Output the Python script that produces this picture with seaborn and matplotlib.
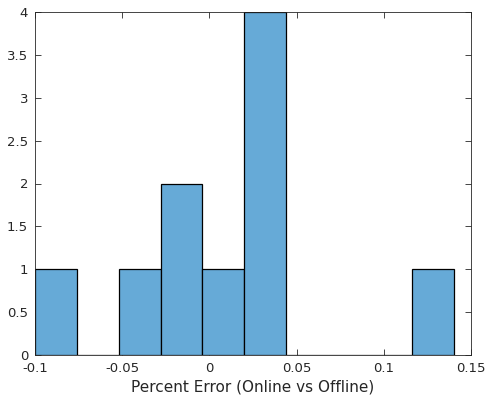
import matplotlib
matplotlib.use("Agg")
import matplotlib.pyplot as plt
import seaborn as sns
import numpy as np

# Histogram bin edges and counts
bin_edges = [-0.1, -0.076, -0.052, -0.028, -0.004, 0.020, 0.044, 0.068, 0.092, 0.116, 0.140]
bin_counts = [1, 0, 1, 2, 1, 4, 0, 0, 0, 1]

x_ticks = [-0.1, -0.05, 0, 0.05, 0.1, 0.15]
x_tick_labels = ["-0.1", "-0.05", "0", "0.05", "0.1", "0.15"]
y_ticks = [0, 0.5, 1, 1.5, 2, 2.5, 3, 3.5, 4]
y_tick_labels = ["0", "0.5", "1", "1.5", "2", "2.5", "3", "3.5", "4"]

sns.set_style("white")
plt.rcParams["font.family"] = ["DejaVu Sans"]

fig = plt.figure(figsize=(4.89, 4.03), dpi=100)
ax = fig.add_axes([35 / 489, 1 - 355 / 403, 436 / 489, 343 / 403])

centers = [(a + b) / 2 for a, b in zip(bin_edges[:-1], bin_edges[1:])]
sns.histplot(x=centers, weights=bin_counts, bins=bin_edges, ax=ax,
             color="#66aad7", alpha=1.0, edgecolor="black", linewidth=0.9)

ax.set_xlim(-0.1, 0.15)
ax.set_ylim(0, 4)
ax.set_xticks(x_ticks)
ax.set_xticklabels(x_tick_labels)
ax.set_yticks(y_ticks)
ax.set_yticklabels(y_tick_labels)
ax.set_ylabel("")
ax.set_xlabel("Percent Error (Online vs Offline)", fontsize=11, color="#262626", labelpad=3)

for s in ax.spines.values():
    s.set_visible(True)
    s.set_color("#262626")
    s.set_linewidth(0.6)
ax.tick_params(direction="in", length=4, width=0.6, color="#262626",
               labelsize=9.5, labelcolor="#262626", top=True, right=True,
               bottom=True, left=True)
ax.tick_params(axis="x", pad=5)
ax.tick_params(axis="y", pad=5)

fig.savefig("out.png", dpi=100)
